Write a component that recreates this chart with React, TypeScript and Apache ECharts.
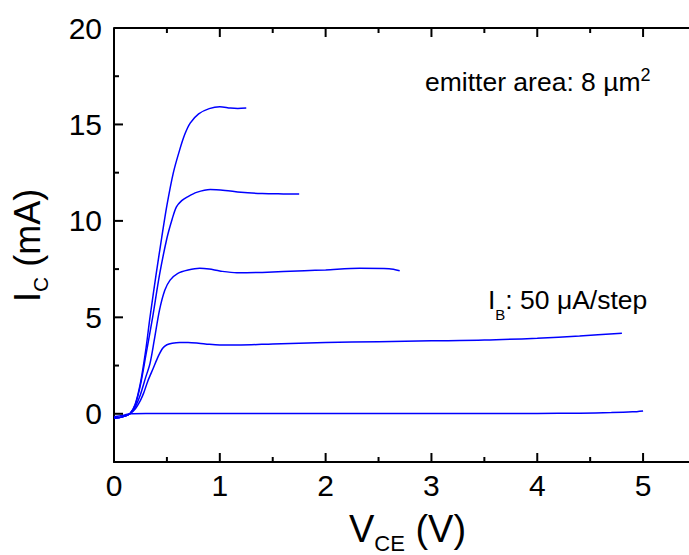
import React, { useEffect, useRef } from "react";
import * as echarts from "echarts";

// I_B = 0
const vce0 = [0, 0.05, 0.1, 0.15, 0.3, 1.0, 2.0, 3.0, 4.0, 4.4, 4.7, 4.9, 5.0];
const ic0 = [-0.15, -0.12, -0.06, 0, 0.02, 0.02, 0.02, 0.02, 0.02, 0.03, 0.06, 0.1, 0.15];
// I_B = 50 uA
const vce1 = [0, 0.05, 0.1, 0.15, 0.2, 0.25, 0.28, 0.32, 0.37, 0.42, 0.46, 0.5, 0.55, 0.62, 0.7, 0.8, 0.9, 1.0, 1.2, 1.5, 2.0, 2.5, 3.0, 3.5, 4.0, 4.4, 4.8];
const ic1 = [-0.22, -0.2, -0.12, 0.0, 0.25, 0.7, 1.07, 1.7, 2.35, 3.0, 3.4, 3.58, 3.66, 3.7, 3.7, 3.66, 3.6, 3.57, 3.57, 3.62, 3.69, 3.74, 3.78, 3.82, 3.92, 4.03, 4.18];
// I_B = 100 uA
const vce2 = [0, 0.05, 0.1, 0.15, 0.2, 0.25, 0.3, 0.34, 0.38, 0.43, 0.48, 0.53, 0.6, 0.7, 0.81, 0.9, 1.0, 1.16, 1.4, 1.8, 2.0, 2.32, 2.6, 2.7];
const ic2 = [-0.22, -0.2, -0.12, 0.0, 0.35, 1.0, 1.9, 2.6, 3.8, 5.37, 6.4, 6.93, 7.27, 7.45, 7.54, 7.5, 7.4, 7.31, 7.33, 7.42, 7.46, 7.54, 7.52, 7.41];
// I_B = 150 uA
const vce3 = [0, 0.05, 0.1, 0.15, 0.2, 0.25, 0.3, 0.365, 0.43, 0.5, 0.55, 0.59, 0.64, 0.69, 0.78, 0.91, 1.05, 1.2, 1.4, 1.6, 1.75];
const ic3 = [-0.22, -0.2, -0.12, 0, 0.45, 1.5, 3.0, 5.0, 7.2, 9.1, 10.1, 10.73, 11.05, 11.23, 11.48, 11.63, 11.58, 11.48, 11.42, 11.4, 11.39];
// I_B = 200 uA
const vce4 = [0, 0.05, 0.1, 0.15, 0.2, 0.25, 0.3, 0.34, 0.4, 0.45, 0.5, 0.56, 0.62, 0.67, 0.72, 0.8, 0.9, 1.0, 1.1, 1.17, 1.25];
const ic4 = [-0.22, -0.2, -0.12, 0, 0.5, 1.6, 3.3, 5.0, 7.3, 9.1, 10.8, 12.48, 13.67, 14.5, 15.07, 15.55, 15.82, 15.92, 15.85, 15.83, 15.85];

const vceList = [vce0, vce1, vce2, vce3, vce4];
const icList = [ic0, ic1, ic2, ic3, ic4];

// axis range (the frame's right edge lies just past the picture's edge)
const xMin = 0, xMax = 5.434;
const yMin = -2.5, yMax = 20;
const xMajorTicks = [0, 1, 2, 3, 4, 5];
const xMinorTicks = [0.5, 1.5, 2.5, 3.5, 4.5];
const yMajorTicks = [0, 5, 10, 15, 20];
const yMinorTicks = [2.5, 7.5, 12.5, 17.5];

const FONT = "Liberation Sans, Arial, sans-serif";

export default function App() {
  const ref = useRef<HTMLDivElement>(null);
  useEffect(() => {
    document.body.style.margin = "0";
    const chart = echarts.init(ref.current!, undefined, { renderer: "svg" });

    const plotL = 114, plotT = 28, plotW = 575, plotH = 434;
    // pixel lengths of the frame ticks, expressed in axis units
    const yPerPx = (yMax - yMin) / plotH;
    const xPerPx = (xMax - xMin) / plotW;
    const MAJ = 9, MIN = 5;

    const series: any[] = vceList.map((xs, i) => ({
      type: "line",
      xAxisIndex: 0,
      yAxisIndex: 0,
      data: xs.map((x, j) => [x, icList[i][j]]),
      showSymbol: false,
      smooth: 0.3,
      lineStyle: { color: "#0000ff", width: 1.5 },
      silent: true,
    }));

    const frameSeries = (pts: number[][]) => ({
      type: "line",
      xAxisIndex: 0,
      yAxisIndex: 0,
      data: pts,
      showSymbol: false,
      smooth: false,
      clip: false,
      silent: true,
      z: 3,
      lineStyle: { color: "#000", width: 2, cap: "butt" },
    });

    const addXTick = (v: number, len: number) => {
      series.push(frameSeries([[v, yMin], [v, yMin + len * yPerPx]]));
      series.push(frameSeries([[v, yMax], [v, yMax - len * yPerPx]]));
    };
    const addYTick = (v: number, len: number) => {
      series.push(frameSeries([[xMin, v], [xMin + len * xPerPx, v]]));
    };
    xMajorTicks.forEach((v) => addXTick(v, MAJ));
    xMinorTicks.forEach((v) => addXTick(v, MIN));
    yMajorTicks.forEach((v) => addYTick(v, MAJ));
    yMinorTicks.forEach((v) => addYTick(v, MIN));
    series.push(frameSeries([[xMin, yMax], [xMax, yMax]]));

    chart.setOption({
      animation: false,
      grid: [{ left: plotL, top: plotT, width: plotW, height: plotH }],
      xAxis: [
        { type: "value", position: "bottom", min: xMin, max: xMax,
          axisLine: { show: true, onZero: false, lineStyle: { color: "#000", width: 2 } },
          axisTick: { show: false },
          axisLabel: { show: true, customValues: xMajorTicks, fontSize: 30, color: "#000", fontFamily: FONT, margin: 8 },
          splitLine: { show: false } },
      ],
      yAxis: [
        { type: "value", position: "left", min: yMin, max: yMax,
          axisLine: { show: true, onZero: false, lineStyle: { color: "#000", width: 2 } },
          axisTick: { show: false },
          axisLabel: { show: true, customValues: yMajorTicks, fontSize: 30, color: "#000", fontFamily: FONT, margin: 12 },
          splitLine: { show: false } },
      ],
      series,
      graphic: {
        elements: [
          {
            type: "text",
            x: 349,
            y: 510,
            silent: true,
            style: {
              text: "{m|V}{s|CE}{m| (V)}",
              align: "left",
              verticalAlign: "top",
              fill: "#000",
              fontFamily: FONT,
              rich: {
                m: { fontSize: 38, lineHeight: 38, verticalAlign: "top", fontFamily: FONT, fill: "#000" },
                s: { fontSize: 22, lineHeight: 44, verticalAlign: "bottom", fontFamily: FONT, fill: "#000" },
              },
            },
          },
          {
            type: "text",
            x: 9,
            y: 302,
            rotation: Math.PI / 2,
            silent: true,
            style: {
              text: "{m|I}{s|C}{m| (mA)}",
              align: "left",
              verticalAlign: "top",
              fill: "#000",
              fontFamily: FONT,
              rich: {
                m: { fontSize: 36, lineHeight: 36, verticalAlign: "top", fontFamily: FONT, fill: "#000" },
                s: { fontSize: 21, lineHeight: 41.5, verticalAlign: "bottom", fontFamily: FONT, fill: "#000" },
              },
            },
          },
          {
            type: "text",
            x: 425,
            y: 66.4,
            silent: true,
            style: {
              text: "{m|emitter area: 8 µm}{p|2}",
              align: "left",
              verticalAlign: "top",
              fill: "#000",
              fontFamily: FONT,
              rich: {
                m: { fontSize: 26.5, lineHeight: 29.4, verticalAlign: "bottom", fontFamily: FONT, fill: "#000" },
                p: { fontSize: 18, lineHeight: 18, verticalAlign: "top", fontFamily: FONT, fill: "#000" },
              },
            },
          },
          {
            type: "text",
            x: 488,
            y: 286.6,
            silent: true,
            style: {
              text: "{m|I}{s|B}{m|: 50 μA/step}",
              align: "left",
              verticalAlign: "top",
              fill: "#000",
              fontFamily: FONT,
              rich: {
                m: { fontSize: 26.5, lineHeight: 26.5, verticalAlign: "top", fontFamily: FONT, fill: "#000" },
                s: { fontSize: 15, lineHeight: 35.7, verticalAlign: "bottom", fontFamily: FONT, fill: "#000" },
              },
            },
          },
        ],
      },
    });
    return () => chart.dispose();
  }, []);
  return <div ref={ref} style={{ width: 689, height: 555 }} />;
}
